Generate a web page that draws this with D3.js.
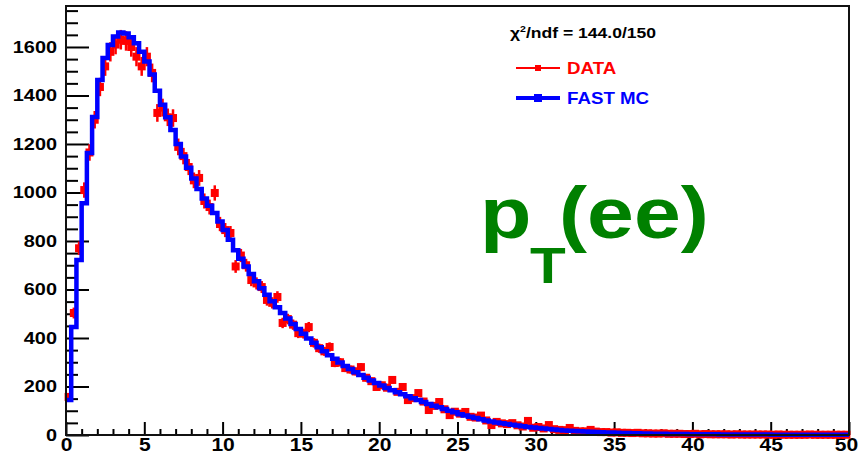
<!DOCTYPE html>
<html>
<head>
<meta charset="utf-8">
<script src="https://cdn.jsdelivr.net/npm/d3@7"></script>
<style>
html,body{margin:0;padding:0;background:#fff;}
svg{display:block;}
text{font-family:"Liberation Sans",Arial,Helvetica,sans-serif;}
</style>
</head>
<body>
<svg id="chart" width="859" height="457"></svg>
<script>
// ---- data ----
const binLow = 0, binHigh = 50, nBins = 150;
const mcCounts = [144,445,722,956,1163,1311,1464,1555,1608,1643,
1660,1656,1640,1615,1580,1540,1487,1420,1362,1310,
1258,1200,1148,1102,1058,1014,975,945,915,880,
845,805,762,727,695,664,634,605,578,552,
527,503,480,458,437,417,398,380,362,345,
329,314,299,285,272,259,247,236,225,214,
204,194,185,176,168,160,152,144,136,128,
121,114,107,100,94,86,80,75,70,65,
60,56,52,48,45,42,39,36,33,31,
29,27,25,23,21,19,18,16,15,14,
13,12,11,10,10,9,8,8,7,7,
6,6,5,5,5,4,4,4,4,3,
3,3,3,3,3,2,2,2,2,2,
2,2,2,2,2,1,1,1,1,1,
1,1,1,1,1,1,1,1,1,1];
const dataCounts = [157,503,770,1010,1165,1300,1435,1520,1580,1610,
1630,1625,1600,1560,1520,1560,1493,1328,1350,1310,
1307,1188,1150,1105,1050,1060,965,940,998,870,
845,833,695,740,700,639,625,610,557,545,
569,462,478,455,420,418,445,380,358,345,
363,297,300,276,270,262,280,236,222,198,
205,195,227,178,198,144,152,173,138,103,
120,136,106,82,96,88,95,75,72,80,
60,41,54,48,45,49,40,35,58,30,
33,27,41,24,21,20,29,17,15,15,
21,14,12,12,10,11,9,9,8,9,
7,7,6,6,7,5,5,5,4,4,
5,3,4,3,3,3,3,2,3,2,
2,2,2,2,2,1,2,1,1,1,
1,1,2,1,1,1,1,1,1,1];
const xMajorTicks = [0,5,10,15,20,25,30,35,40,45,50];
const yMajorTicks = [0,200,400,600,800,1000,1200,1400,1600];
const yMax = 1769;
const chiText = "/ndf = 144.0/150";
const legendLabels = ["DATA","FAST MC"];
const titleMain = "p", titleSub = "T", titleRest = "(ee)";

// ---- layout ----
const SX = 1.17;
const L = 66, R = 849, T = 6, B = 435;
const svg = d3.select("#chart");
svg.append("rect").attr("width",859).attr("height",457).attr("fill","#fff");

const x = d3.scaleLinear().domain([binLow,binHigh]).range([L,R]);
const y = d3.scaleLinear().domain([0,yMax]).range([B,T]);
const bw = (binHigh-binLow)/nBins;

// minor ticks
const xMinor = d3.range(0,51,1).filter(v=>v%5!==0);
const yMinor = d3.range(0,1769,50).filter(v=>v%200!==0);

const gxm = svg.append("g").attr("transform",`translate(0,${B})`)
  .call(d3.axisBottom(x).tickValues(xMinor).tickSize(-6).tickFormat(""));
const gx = svg.append("g").attr("transform",`translate(0,${B})`)
  .call(d3.axisBottom(x).tickValues(xMajorTicks).tickSize(-13).tickPadding(3).tickFormat(d3.format("d")));
const gym = svg.append("g").attr("transform",`translate(${L},0)`)
  .call(d3.axisLeft(y).tickValues(yMinor).tickSize(-12).tickFormat(""));
const gy = svg.append("g").attr("transform",`translate(${L},0)`)
  .call(d3.axisLeft(y).tickValues(yMajorTicks).tickSize(-23).tickPadding(9).tickFormat(d3.format("d")));

[gxm,gx,gym,gy].forEach(g=>{
  g.select(".domain").remove();
  g.selectAll(".tick line").attr("stroke","#000").attr("stroke-width",2);
});
gx.selectAll("text").attr("font-size",18).attr("font-weight","bold").attr("fill","#000")
  .attr("y",0).attr("transform",d=>`translate(${d===50?-3:0},3) scale(${SX},1)`);
gy.selectAll("text").attr("font-size",17).attr("font-weight","bold").attr("fill","#000")
  .attr("x",0).attr("transform",`translate(-9,0) scale(${SX},1)`);

// ---- data histogram (red points with errors) ----
const gData = svg.append("g");
dataCounts.forEach((c,i)=>{
  const xc = x(binLow + (i+0.5)*bw);
  const e = Math.sqrt(c);
  gData.append("line").attr("x1",xc).attr("x2",xc).attr("y1",y(c-e)).attr("y2",y(Math.min(c+e,yMax)))
    .attr("stroke","#ff0000").attr("stroke-width",2.5);
  gData.append("line").attr("x1",x(binLow+i*bw)).attr("x2",x(binLow+(i+1)*bw)).attr("y1",y(c)).attr("y2",y(c))
    .attr("stroke","#ff0000").attr("stroke-width",2);
  gData.append("rect").attr("x",xc-4).attr("y",y(c)-4).attr("width",8).attr("height",8).attr("fill","#ff0000");
});

// ---- MC histogram (blue step) ----
const pts = mcCounts.map((c,i)=>[binLow+i*bw, c]);
pts.push([binHigh, mcCounts[mcCounts.length-1]]);
const stepLine = d3.line().x(d=>x(d[0])).y(d=>y(d[1])).curve(d3.curveStepAfter);
svg.append("path").attr("d",stepLine(pts)).attr("fill","none")
  .attr("stroke","#0000ff").attr("stroke-width",4.5).attr("stroke-linejoin","miter");

// ---- frame ----
svg.append("rect").attr("x",L).attr("y",T).attr("width",R-L).attr("height",B-T)
  .attr("fill","none").attr("stroke","#111").attr("stroke-width",2);

// ---- legend ----
const chi = svg.append("text").attr("transform",`translate(510,38) scale(${SX},1)`)
  .attr("font-size",15).attr("font-weight","bold").attr("fill","#000");
chi.append("tspan").text("χ");
chi.append("tspan").attr("font-size",9).attr("dy",-6).text("2");
chi.append("tspan").attr("dy",6).text(chiText);

const legColors = ["#ff0000","#0000ff"], legY = [68,98], legW = [2,4], legM = [6,8];
legendLabels.forEach((lab,i)=>{
  svg.append("line").attr("x1",516).attr("x2",560).attr("y1",legY[i]).attr("y2",legY[i])
    .attr("stroke",legColors[i]).attr("stroke-width",legW[i]);
  svg.append("rect").attr("x",538-legM[i]/2).attr("y",legY[i]-legM[i]/2).attr("width",legM[i]).attr("height",legM[i]).attr("fill",legColors[i]);
  svg.append("text").attr("transform",`translate(567,${legY[i]+6}) scale(${SX},1)`)
    .attr("font-size",16).attr("font-weight","bold").attr("fill",legColors[i]).text(lab);
});

// ---- big title ----
const green = "#008000";
svg.append("text").attr("transform",`translate(480,238) scale(${SX},1)`)
  .attr("font-size",72).attr("font-weight","bold").attr("fill",green).text(titleMain);
svg.append("text").attr("transform",`translate(530,283) scale(${SX},1)`)
  .attr("font-size",50).attr("font-weight","bold").attr("fill",green).text(titleSub);
svg.append("text").attr("transform",`translate(559,238) scale(${SX},1)`)
  .attr("font-size",72).attr("font-weight","bold").attr("fill",green).text(titleRest);
</script>
</body>
</html>
